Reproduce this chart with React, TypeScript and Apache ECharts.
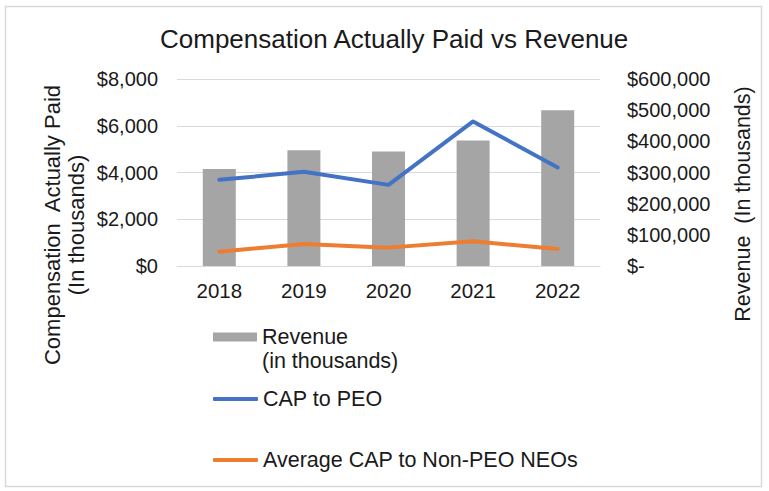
import React, { useEffect, useRef } from 'react';
import * as echarts from 'echarts';

const years = ['2018', '2019', '2020', '2021', '2022'];
const revenue = [311000, 371000, 367000, 403000, 500000];
const capToPeo = [3685, 4028, 3471, 6183, 4213];
const capToNonPeo = [614, 943, 786, 1057, 729];

const leftTicks = { min: 0, max: 8000, interval: 2000 };
const rightTicks = { min: 0, max: 600000, interval: 100000 };

const FONT = '"Liberation Sans", Arial, sans-serif';
const TXT = '#1a1a1a';

export default function App() {
  const ref = useRef<HTMLDivElement>(null);
  useEffect(() => {
    document.body.style.margin = '0';
    const chart = echarts.init(ref.current!, null, { renderer: 'svg' });
    const legendBase = {
      orient: 'vertical',
      left: 213,
      padding: 0,
      itemGap: 0,
      textStyle: { fontSize: 21.5, color: TXT, fontFamily: FONT },
      selectedMode: false,
    };
    chart.setOption({
      animation: false,
      backgroundColor: '#ffffff',
      textStyle: { fontFamily: FONT },
      title: {
        text: 'Compensation Actually Paid vs Revenue',
        left: 160,
        top: 26,
        padding: 0,
        textStyle: { fontSize: 26, fontWeight: 'normal', color: TXT, fontFamily: FONT },
      },
      grid: { left: 177, right: 169, top: 79, bottom: 225, containLabel: false },
      xAxis: {
        type: 'category',
        data: years,
        axisLine: { lineStyle: { color: '#d9d9d9', width: 1 } },
        axisTick: { show: false },
        axisLabel: { fontSize: 20.5, color: TXT, margin: 14, fontFamily: FONT },
      },
      yAxis: [
        {
          type: 'value',
          ...leftTicks,
          position: 'left',
          axisLine: { show: false },
          axisTick: { show: false },
          splitLine: { lineStyle: { color: '#d9d9d9', width: 1 } },
          axisLabel: {
            fontSize: 20,
            color: TXT,
            margin: 19,
            fontFamily: FONT,
            formatter: (v: number) => '$' + v.toLocaleString('en-US'),
          },
        },
        {
          type: 'value',
          ...rightTicks,
          position: 'right',
          axisLine: { show: false },
          axisTick: { show: false },
          splitLine: { show: false },
          axisLabel: {
            fontSize: 20,
            color: TXT,
            margin: 27,
            fontFamily: FONT,
            formatter: (v: number) => (v === 0 ? '$-' : '$' + v.toLocaleString('en-US')),
          },
        },
      ],
      legend: [
        {
          ...legendBase,
          top: 326,
          data: [{ name: 'Revenue', icon: 'rect' }],
          itemWidth: 44,
          itemHeight: 9,
        },
        {
          ...legendBase,
          top: 388,
          data: [{ name: 'CAP to PEO', icon: 'roundRect' }],
          itemWidth: 45,
          itemHeight: 4,
        },
        {
          ...legendBase,
          top: 449,
          data: [{ name: 'Average CAP to Non-PEO NEOs', icon: 'roundRect' }],
          itemWidth: 45,
          itemHeight: 4,
        },
      ],
      series: [
        {
          name: 'Revenue',
          type: 'bar',
          yAxisIndex: 1,
          data: revenue,
          barWidth: 33,
          itemStyle: { color: '#a5a5a5' },
          z: 1,
        },
        {
          name: 'CAP to PEO',
          type: 'line',
          yAxisIndex: 0,
          data: capToPeo,
          symbol: 'none',
          itemStyle: { color: '#4472c4' },
          lineStyle: { color: '#4472c4', width: 4, cap: 'round', join: 'round' },
          z: 3,
        },
        {
          name: 'Average CAP to Non-PEO NEOs',
          type: 'line',
          yAxisIndex: 0,
          data: capToNonPeo,
          symbol: 'none',
          itemStyle: { color: '#ed7d31' },
          lineStyle: { color: '#ed7d31', width: 4, cap: 'round', join: 'round' },
          z: 3,
        },
      ],
      graphic: [
        {
          type: 'rect',
          shape: { x: 5.5, y: 6.5, width: 756, height: 480 },
          style: { fill: 'none', stroke: '#d9d9d9', lineWidth: 1.5 },
          silent: true,
        },
        {
          type: 'text',
          x: 262,
          y: 361,
          style: {
            text: '(in thousands)',
            fontSize: 21.5,
            fill: TXT,
            fontFamily: FONT,
            textAlign: 'left',
            textVerticalAlign: 'middle',
          },
        },
        {
          type: 'text',
          x: 52,
          y: 225,
          rotation: Math.PI / 2,
          style: {
            text: 'Compensation  Actually Paid',
            fontSize: 22,
            fill: TXT,
            fontFamily: FONT,
            textAlign: 'center',
            textVerticalAlign: 'middle',
          },
        },
        {
          type: 'text',
          x: 76,
          y: 225,
          rotation: Math.PI / 2,
          style: {
            text: '(In thousands)',
            fontSize: 22,
            fill: TXT,
            fontFamily: FONT,
            textAlign: 'center',
            textVerticalAlign: 'middle',
          },
        },
        {
          type: 'text',
          x: 743,
          y: 204,
          rotation: Math.PI / 2,
          style: {
            text: 'Revenue  (In thousands)',
            fontSize: 21.5,
            fill: TXT,
            fontFamily: FONT,
            textAlign: 'center',
            textVerticalAlign: 'middle',
          },
        },
      ],
    });
    return () => chart.dispose();
  }, []);
  return <div ref={ref} style={{ width: 769, height: 491 }} />;
}
